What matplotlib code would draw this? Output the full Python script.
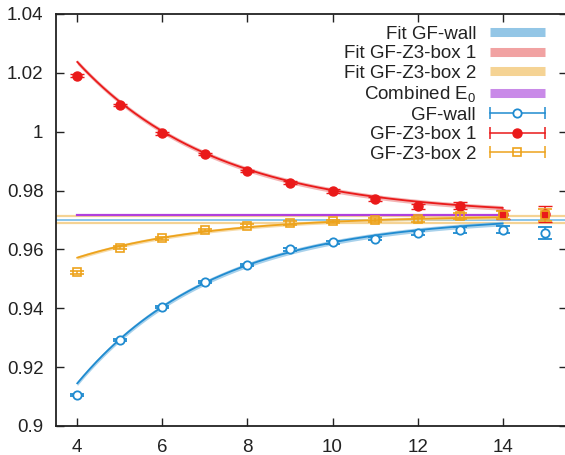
import numpy as np
import matplotlib
matplotlib.use("Agg")
import matplotlib.pyplot as plt
from matplotlib.lines import Line2D
from matplotlib.legend_handler import HandlerLine2D

plt.rcParams['font.family'] = ['Liberation Sans', 'DejaVu Sans']
plt.rcParams['mathtext.fontset'] = 'custom'
plt.rcParams['mathtext.rm'] = 'Liberation Sans'
plt.rcParams['mathtext.it'] = 'Liberation Sans'

# ---------------- data ----------------
t = [4, 5, 6, 7, 8, 9, 10, 11, 12, 13, 14, 15]

wall_y = [0.9105, 0.9292, 0.9404, 0.9489, 0.9547, 0.9600, 0.9625, 0.9637, 0.9656, 0.9665, 0.9667, 0.9656]
wall_e = [0.0004, 0.0004, 0.0004, 0.0004, 0.0004, 0.0005, 0.0005, 0.0006, 0.0008, 0.0010, 0.0012, 0.0019]

box1_y = [1.0191, 1.0091, 0.9994, 0.9925, 0.9866, 0.9826, 0.9798, 0.9772, 0.9746, 0.9748, 0.9719, 0.9720]
box1_e = [0.0004, 0.0004, 0.0004, 0.0004, 0.0004, 0.0005, 0.0006, 0.0007, 0.0009, 0.0012, 0.0016, 0.0028]

box2_y = [0.9523, 0.9605, 0.9638, 0.9666, 0.9681, 0.9690, 0.9695, 0.9699, 0.9702, 0.9713, 0.9718, 0.9716]
box2_e = [0.0005, 0.0005, 0.0005, 0.0005, 0.0005, 0.0006, 0.0006, 0.0007, 0.0009, 0.0011, 0.0014, 0.0020]

# fit results: E(t) = E0 + A * exp(-dE * (t - 4)), band half-width err
fit_range = (4, 14)
fit_wall = dict(E0=0.9715, A=-0.0570, dE=0.305, err=0.0008)
fit_box1 = dict(E0=0.9715, A=0.0522, dE=0.300, err=0.0008)
fit_box2 = dict(E0=0.9715, A=-0.0143, dE=0.320, err=0.0006)

combined_E0 = 0.9717
combined_range = (4, 14)
hline_wall = 0.9700
hline_box2 = [0.9713, 0.9691]

labels_fit = ['Fit GF-wall', 'Fit GF-Z3-box 1', 'Fit GF-Z3-box 2', r'Combined $\mathrm{E}_0$']
labels_data = ['GF-wall', 'GF-Z3-box 1', 'GF-Z3-box 2']

# ---------------- style ----------------
c_blue = '#1f8bd0'
c_red = '#ea1a1a'
c_orange = '#eda31c'
c_blue_band = '#93c6e6'
c_red_band = '#f1a2a2'
c_orange_band = '#f5d394'
c_purple = '#c98ae8'
c_purple_line = '#b03fdd'

W, H = 565, 455
fig = plt.figure(figsize=(W / 100, H / 100), dpi=100)
ax_left, ax_right, ax_top, ax_bot = 56, 566.5, 14, 426
ax = fig.add_axes([ax_left / W, 1 - ax_bot / H, (ax_right - ax_left) / W, (ax_bot - ax_top) / H])

ax.set_xlim(3.5, 15.5)
ax.set_ylim(0.9, 1.04)

tt = np.linspace(fit_range[0], fit_range[1], 200)

def fit_curve(p):
    return p['E0'] + p['A'] * np.exp(-p['dE'] * (tt - 4))

# horizontal reference lines
ax.axhline(hline_box2[0], color=c_orange_band, lw=1.6, zorder=2)
ax.axhline(hline_box2[1], color=c_orange_band, lw=1.6, zorder=2)
ax.axhline(hline_wall, color='#7fc0ea', lw=1.3, zorder=2)
ax.fill_between(np.array(combined_range), combined_E0 - 0.0003, combined_E0 + 0.0003,
                color=c_purple, lw=0, zorder=3)
ax.plot(np.array(combined_range), [combined_E0, combined_E0], color=c_purple_line, lw=1.6, zorder=3)

# fit bands
for p, cb, cl in [(fit_wall, c_blue_band, c_blue), (fit_box1, c_red_band, c_red), (fit_box2, c_orange_band, c_orange)]:
    y = fit_curve(p)
    ax.fill_between(tt, y - p['err'], y + p['err'], color=cb, lw=0, alpha=0.8, zorder=3)
    ax.plot(tt, y, color=cl, lw=1.3, zorder=4)

# data
ebkw = dict(capsize=5, elinewidth=1.1, capthick=1.1, ls='none', zorder=5)
ax.errorbar(t, wall_y, yerr=wall_e, color=c_blue, marker='o', ms=6, mfc='white', mec=c_blue, mew=1.3, **ebkw)
ax.errorbar(t, box1_y, yerr=box1_e, color=c_red, marker='o', ms=6.5, mfc=c_red, mec=c_red, mew=1.0, **ebkw)
ax.errorbar(t, box2_y, yerr=box2_e, color=c_orange, marker='s', ms=6, mfc='none', mec=c_orange, mew=1.2, **ebkw)

# axes style
ax.set_xticks([4, 6, 8, 10, 12, 14])
ax.set_xticklabels(['4', '6', '8', '10', '12', '14'])
ax.set_yticks([0.9, 0.92, 0.94, 0.96, 0.98, 1.0, 1.02, 1.04])
ax.set_yticklabels(['0.9', '0.92', '0.94', '0.96', '0.98', '1', '1.02', '1.04'])
ax.tick_params(direction='in', length=6, width=1.0, labelsize=13.5, colors='#222222',
               top=True, right=True)
ax.tick_params(axis='x', pad=9)
ax.tick_params(axis='y', pad=9)
for s in ax.spines.values():
    s.set_linewidth(1.3)
    s.set_color('#222222')

# legend
band_w = 6.5
h_fit = [Line2D([], [], color=c, lw=band_w, solid_capstyle='butt') for c in
         [c_blue_band, c_red_band, c_orange_band, c_purple]]
handler_map = {}
h_data = []
for c, kw in [(c_blue, dict(marker='o', mfc='white', mec=c_blue, mew=1.3, ms=6)),
              (c_red, dict(marker='o', mfc=c_red, mec=c_red, ms=6.5)),
              (c_orange, dict(marker='s', mfc='none', mec=c_orange, mew=1.2, ms=6))]:
    caps = Line2D([], [], color=c, lw=1.1, marker='|', ms=8, mew=1.1)
    mk = Line2D([], [], color=c, ls='none', **kw)
    handler_map[caps] = HandlerLine2D(numpoints=2, marker_pad=0)
    h_data.append((caps, mk))

leg = ax.legend(h_fit + h_data, labels_fit + labels_data, handler_map=handler_map,
                loc='upper right', bbox_to_anchor=(0.957, 0.972), borderaxespad=0, borderpad=0,
                frameon=False, markerfirst=False, fontsize=13.5, handlelength=2.9,
                handletextpad=0.75, labelspacing=0.13, numpoints=1)
for txt in leg.get_texts():
    txt.set_color('#222222')

fig.savefig('out.png', dpi=100)
